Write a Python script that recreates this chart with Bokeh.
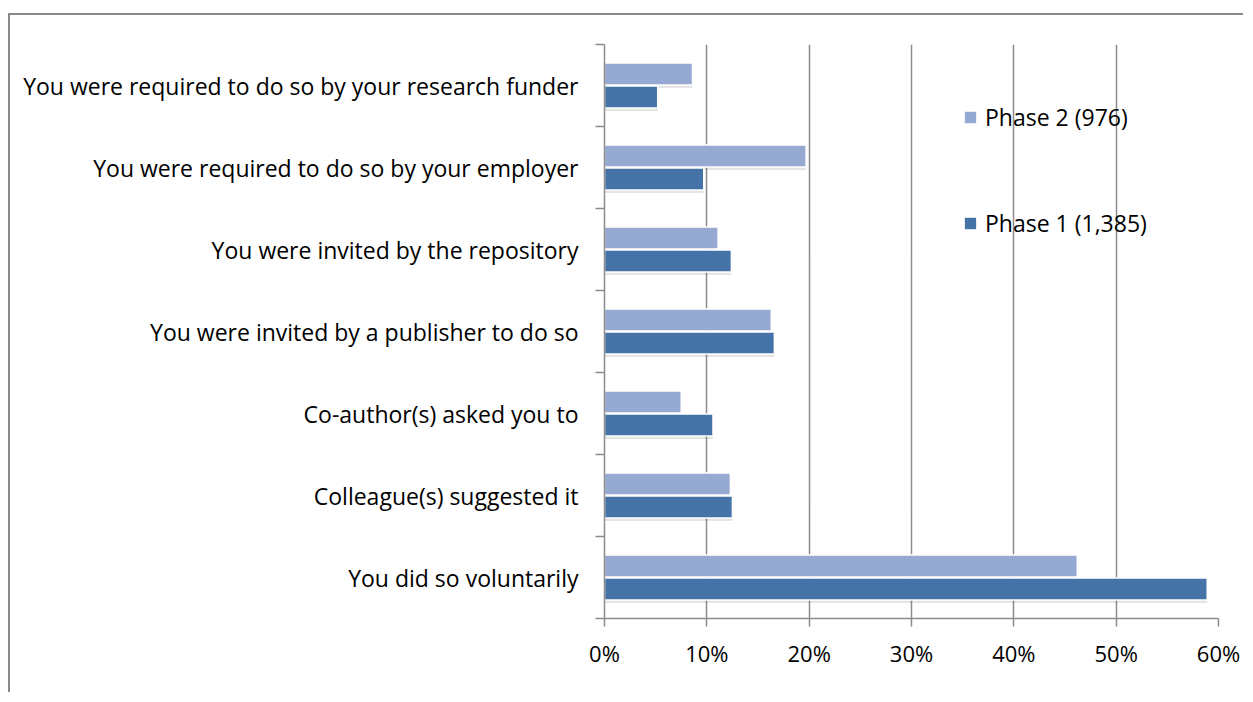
from bokeh.plotting import figure
from bokeh.models import (ColumnDataSource, FixedTicker, PrintfTickFormatter,
                          Legend, LegendItem)
from bokeh.transform import dodge
from bokeh.embed import file_html
from bokeh.resources import INLINE

# Categories from top to bottom as shown
categories = [
    "You were required to do so by your research funder",
    "You were required to do so by your employer",
    "You were invited by the repository",
    "You were invited by a publisher to do so",
    "Co-author(s) asked you to",
    "Colleague(s) suggested it",
    "You did so voluntarily",
]
phase2 = [8.6, 19.7, 11.1, 16.3, 7.5, 12.3, 46.2]   # Phase 2 (976)
phase1 = [5.2, 9.7, 12.4, 16.6, 10.6, 12.5, 58.9]   # Phase 1 (1,385)
series_labels = ["Phase 2 (976)", "Phase 1 (1,385)"]
x_ticks = [0, 10, 20, 30, 40, 50, 60]

n = len(categories)
ypos = [n - 1 - i for i in range(n)]  # top category at the top

src = ColumnDataSource(dict(y=ypos, p2=phase2, p1=phase1, cat=categories))

FONT = "Open Sans"
GRID = "#8c8c8c"
LIGHT = "#95a9d2"
DARK = "#4573a7"

p = figure(width=1235, height=679, x_range=(0, 60), y_range=(-0.5, n - 0.5),
           output_backend="svg", toolbar_location=None,
           min_border_left=594, min_border_top=29, min_border_bottom=76,
           min_border_right=27)
p.styles = {"border-left": "2px solid #8a8a8a", "border-top": "2px solid #8a8a8a",
            "margin-top": "13px", "margin-left": "8px"}
p.outline_line_color = None
p.background_fill_color = "white"

# shadows
p.hbar(y=dodge("y", 0.14 - 0.035, range=p.y_range), left=0, right="p2", height=0.27,
       source=src, fill_color="#000000", fill_alpha=0.10, line_color=None)
p.hbar(y=dodge("y", -0.14 - 0.035, range=p.y_range), left=0, right="p1", height=0.27,
       source=src, fill_color="#000000", fill_alpha=0.10, line_color=None)

r2 = p.hbar(y=dodge("y", 0.14, range=p.y_range), left=0, right="p2", height=0.27,
            source=src, fill_color=LIGHT, line_color="white", line_width=1.5)
r1 = p.hbar(y=dodge("y", -0.14, range=p.y_range), left=0, right="p1", height=0.27,
            source=src, fill_color=DARK, line_color="white", line_width=1.5)

# grid
p.ygrid.visible = False
p.xgrid.ticker = FixedTicker(ticks=x_ticks[1:])
p.xgrid.grid_line_color = GRID
p.xgrid.grid_line_width = 1.5

# x axis
xa = p.xaxis[0]
xa.ticker = FixedTicker(ticks=x_ticks)
xa.formatter = PrintfTickFormatter(format="%d%%")
xa.axis_line_color = GRID
xa.axis_line_width = 1.5
xa.major_tick_line_color = GRID
xa.major_tick_line_width = 1.5
xa.major_tick_in = 0
xa.major_tick_out = 8
xa.minor_tick_line_color = None
xa.major_label_text_font = FONT
xa.major_label_text_font_size = "22px"
xa.major_label_text_color = "black"
xa.major_label_standoff = 11

# y axis: labels at category centres, ticks at boundaries
ya = p.yaxis[0]
ya.ticker = FixedTicker(ticks=ypos, minor_ticks=[k - 0.5 for k in range(n + 1)])
ya.major_label_overrides = {y: c for y, c in zip(ypos, categories)}
ya.axis_line_color = GRID
ya.axis_line_width = 1.5
ya.major_tick_line_color = None
ya.minor_tick_line_color = GRID
ya.minor_tick_line_width = 1.5
ya.minor_tick_in = 0
ya.minor_tick_out = 9
ya.major_label_text_font = FONT
ya.major_label_text_font_size = "23px"
ya.major_label_text_color = "black"
ya.major_label_standoff = 17

legend = Legend(items=[LegendItem(label=series_labels[0], renderers=[r2]),
                       LegendItem(label=series_labels[1], renderers=[r1])],
                location=(358, 378), orientation="vertical")
legend.border_line_color = None
legend.background_fill_alpha = 0
legend.padding = 0
legend.margin = 0
legend.spacing = 72
legend.glyph_width = 16
legend.glyph_height = 16
legend.label_height = 34
legend.label_standoff = 7
legend.label_text_font = FONT
legend.label_text_font_size = "23px"
legend.label_text_color = "black"
p.add_layout(legend)

open("out.html", "w").write(file_html(p, INLINE))
